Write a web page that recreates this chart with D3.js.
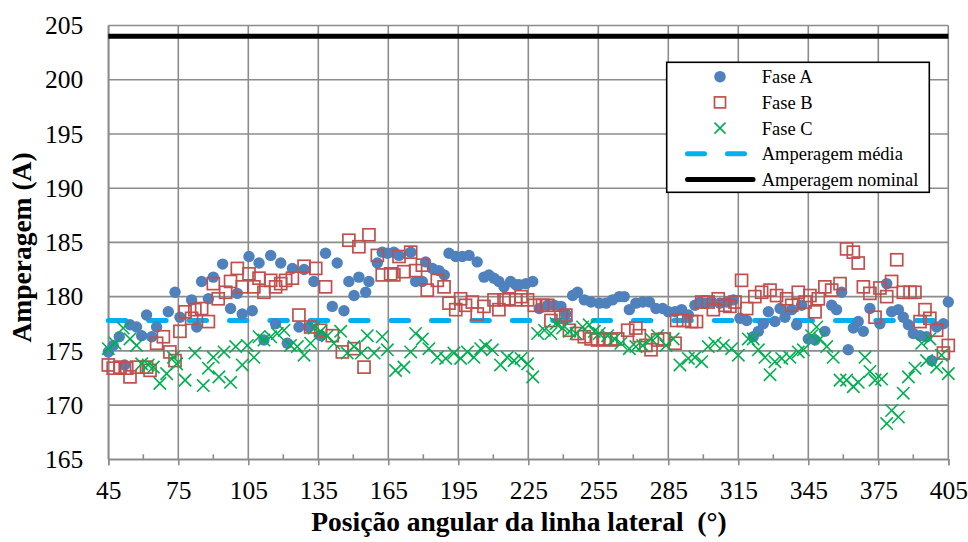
<!DOCTYPE html>
<html>
<head>
<meta charset="utf-8">
<script src="https://cdn.jsdelivr.net/npm/d3@7/dist/d3.min.js"></script>
<style>
  html, body { margin: 0; padding: 0; background: #fff; }
  svg { display: block; }
</style>
</head>
<body>
<svg id="chart" width="968" height="542"></svg>
<script>
// Corrente por fase ao longo da posição angular da linha lateral
const faseA = [
  [45,174.9],[47.1,175.5],[49.7,176.3],[52,173.7],[54.3,177.4],[57.1,177.2],[59.3,176.4],[61.4,178.3],
  [63.6,176.3],[65.7,177.2],[70.7,178.6],[73.6,180.4],[75.7,178.1],[80.7,179.7],[82.9,177.2],[85,181.4],
  [87.9,179.8],[90,181.8],[94,183.0],[97.4,178.9],[100.3,180.3],[102.4,178.4],[105.3,183.7],[106.7,178.7],
  [109.6,183.1],[111.7,176.0],[114.6,183.8],[116.7,177.5],[118.9,183.1],[121.7,175.7],[123.9,182.6],
  [126.7,177.2],[128.9,182.5],[131,177.2],[133.1,181.4],[136,176.4],[138.1,184.0],[141,179.1],[143.1,183.1],
  [146,178.7],[148.1,181.4],[150.3,180.1],[152.4,181.8],[155.3,180.4],[156.7,181.4],[160.3,183.1],
  [162.4,184.1],[164.6,184.0],[167.4,184.1],[169.6,183.8],[174.6,184.1],[176.7,181.4],[179.6,181.4],
  [181,183.2],[183.9,182.6],[186.7,182.4],[189,182.0],[191,184.0],[193.9,183.7],[196.7,183.7],[199.6,183.8],
  [203.1,183.2],[206,181.8],[208.1,182.0],[210.3,181.7],[212.4,181.4],[214.6,180.9],[217.4,181.4],
  [219.6,181.1],[221.1,181.1],[224,181.2],[226.9,181.4],[229.7,178.9],[233.3,179.2],[236.1,179.2],
  [239,179.1],[241.1,178.4],[244,180.1],[246.1,180.4],[249,179.7],[251.9,179.5],[255.4,179.4],[258.3,179.4],
  [261.1,179.7],[264,180.0],[266.1,180.0],[268.3,178.8],[271.1,179.4],[274,179.5],[276.9,179.5],
  [279.7,178.9],[282.6,178.9],[285,178.6],[287.9,178.6],[290.7,178.8],[293.6,178.3],[296.4,179.2],
  [298.6,179.5],[300.7,179.4],[303.6,179.5],[307.1,179.4],[310,179.5],[312.9,179.7],[315.7,178.0],
  [318.6,177.8],[321.4,176.3],[323.6,176.8],[325.7,177.5],[327.9,178.6],[330.7,177.7],[332.9,178.9],
  [335,178.1],[337.9,178.8],[340,177.4],[342.1,179.2],[345,176.1],[347.9,176.0],[352.1,176.8],[355,179.2],
  [357.1,178.8],[359.3,180.4],[362.1,175.1],[364.3,177.1],[366.4,177.7],[368.6,176.8],[371.4,178.9],
  [375.7,177.5],[378.6,181.2],[380.7,178.6],[383.6,178.8],[385.7,178.1],[387.9,177.4],[390,176.6],
  [392.9,176.4],[395.7,176.3],[397.9,174.1],[400,177.2],[402.9,177.5],[405,179.5]
];

const faseB = [
  [45,173.7],[47.1,173.4],[50,173.5],[52.9,173.4],[54.3,172.6],[57.1,173.5],[61.4,173.5],[62.9,173.2],
  [65.7,175.7],[68.6,176.3],[71.4,174.9],[73.6,174.1],[75.7,176.8],[77.9,178.6],[80.7,178.0],[82.1,178.8],
  [85,178.9],[87.9,177.7],[90,181.2],[92.1,179.8],[95.3,180.4],[97.4,181.4],[100.3,182.6],[102.4,180.9],
  [105.3,182.1],[107.4,180.9],[109.6,181.7],[111.7,180.4],[114.6,181.5],[116.7,180.9],[118.9,181.2],
  [121,181.5],[123.9,181.7],[126.7,178.3],[128.9,182.8],[131.7,177.2],[133.9,182.6],[136,176.9],
  [138.1,180.9],[141,176.4],[145.3,174.9],[148.1,185.2],[150.3,175.2],[152.4,184.6],[154.6,173.5],
  [156.7,185.7],[160.3,183.8],[162.4,182.0],[166,182.1],[167.4,182.0],[169.6,183.7],[171.7,182.3],
  [174.6,184.1],[176.7,182.4],[179.6,182.9],[181.7,180.6],[186,181.5],[188.9,180.9],[191,179.4],
  [193.9,178.8],[196,179.8],[198.1,179.2],[201,179.5],[203.1,178.4],[206,179.1],[210.3,179.7],[212.4,178.8],
  [214.6,179.7],[216.7,179.8],[219.6,179.7],[221.9,180.0],[224.7,179.7],[227.6,179.2],[231.1,179.2],
  [233.3,179.2],[234.7,177.8],[239,178.1],[241.1,178.3],[242.6,176.9],[246.1,176.6],[249,176.3],
  [251.9,176.1],[254.7,176.0],[257.6,176.1],[260.4,176.0],[263.3,176.1],[267.6,176.9],[271.1,177.1],
  [272.6,176.4],[275.4,175.5],[277.6,175.1],[280.4,176.0],[283.3,176.1],[287.9,175.7],[288.6,177.8],
  [291.4,177.8],[295,177.7],[297.1,177.7],[299.3,179.5],[302.1,179.5],[304.3,178.8],[306.4,179.8],
  [309.3,179.2],[311.4,179.1],[313.6,179.5],[316.4,181.5],[318.6,178.9],[322.1,180.0],[325,180.4],
  [328.6,180.6],[331.4,180.1],[335.7,179.8],[337.9,179.2],[340.7,180.4],[343.6,179.5],[345.7,180.1],
  [347.9,178.6],[349.3,179.8],[352.1,180.9],[355,180.6],[358.6,181.2],[361.4,184.4],[364.3,184.1],
  [366.4,183.1],[368.6,180.9],[371.4,180.3],[373.6,178.1],[375.7,180.8],[378.6,180.0],[380.7,181.4],
  [382.9,183.4],[385.7,180.4],[388.6,180.4],[390.7,180.4],[392.9,177.7],[395,178.8],[397.1,178.0],
  [400,176.9],[402.9,174.8],[405,175.5]
];

const faseC = [
  [45,175.2],[47.9,175.7],[51.4,177.1],[54.3,176.1],[57.1,175.5],[59.3,173.8],[62.1,173.7],[64.3,173.5],
  [67.1,172.0],[70,172.9],[72.9,174.4],[74.3,173.8],[77.9,172.3],[82.1,174.8],[85.7,171.8],[87.9,173.4],
  [90,174.4],[92.4,172.6],[94.6,174.9],[97.4,172.1],[99.6,175.4],[102.4,173.7],[104.6,175.5],[107.4,174.4],
  [109.6,176.3],[111.7,176.0],[114.6,176.3],[117.4,176.6],[120.3,176.9],[123.1,175.5],[126,175.4],
  [128.9,174.6],[131.7,175.7],[133.1,177.1],[136,176.8],[138.9,176.4],[141.7,175.7],[144.6,176.8],
  [147.4,174.8],[150.3,175.4],[153.5,174.8],[156,176.4],[158.9,174.8],[162.4,176.3],[164.6,175.1],
  [168.1,173.2],[171.7,173.5],[174.6,174.9],[176.7,176.6],[179.6,176.1],[182.4,175.2],[186,174.4],
  [189.6,174.3],[193.1,174.8],[196,174.3],[198.9,174.9],[201.7,174.4],[204.6,175.2],[206.7,175.5],
  [209.6,175.1],[213.1,173.7],[216,174.4],[218.9,174.1],[221.9,174.3],[224.7,173.8],[226.9,172.6],
  [229,176.6],[231.9,176.9],[234.7,176.6],[236.9,177.5],[239.7,177.1],[242.6,176.8],[245.4,176.6],
  [248.3,177.2],[251.1,177.4],[253.3,176.8],[255.4,176.6],[259,176.4],[261.9,176.1],[264.7,175.7],
  [268.3,175.2],[271.1,175.4],[274,175.5],[277.6,176.1],[280.4,176.4],[284,175.5],[287.1,176.1],
  [290,173.7],[293.6,174.3],[296.4,174.4],[299.3,174.0],[302.1,175.4],[305,175.7],[308.6,175.5],
  [312.1,175.2],[315,174.6],[319.3,176.1],[321.4,176.1],[323.6,175.1],[326.4,174.4],[328.6,172.8],
  [330.7,174.0],[333.6,174.3],[337.1,174.4],[340.7,174.9],[342.9,175.1],[346.4,176.4],[348.6,177.2],
  [350,176.1],[352.9,175.4],[355.7,174.4],[358.6,172.3],[361.4,172.3],[364.3,171.7],[366.4,172.1],
  [369.3,174.4],[371.4,173.1],[373.6,172.3],[376.4,172.4],[378.6,168.3],[380.7,169.5],[383.6,168.9],
  [385.7,171.1],[387.9,172.6],[390.7,173.4],[393.6,175.7],[395.7,174.1],[397.1,176.1],[400,173.5],
  [402.1,174.6],[405,172.9]
];

// Linhas de referência (amperagem média e nominal), de 45° a 405°
const amperagemMedia = [[45,177.8],[405,177.8]];
const amperagemNominal = [[45,204],[405,204]];

const xTicks = [45,75,105,135,165,195,225,255,285,315,345,375,405];
const xMinorTicks = [60,90,120,150,180,210,240,270,300,330,360,390];
const yTicks = [165,170,175,180,185,190,195,200,205];
const legendLabels = ["Fase A","Fase B","Fase C","Amperagem média","Amperagem nominal"];
const xTitle = "Posição angular da linha lateral  (°)";
const yTitle = "Amperagem (A)";

// ---- layout ----
const plot = { left: 108.3, right: 948.3, top: 25.5, bottom: 459.3 };
const FONT = '"Liberation Serif"';
const GRID = "#8c8c8c";
const C_A = "#4F81BD", C_B = "#C0504D", C_C = "#00B050", C_AVG = "#00B0F0";

const svg = d3.select("#chart");
const x = d3.scaleLinear().domain([45, 405]).range([plot.left, plot.right]);
const y = d3.scaleLinear().domain([165, 205]).range([plot.bottom, plot.top]);

// grid
const grid = svg.append("g");
grid.selectAll("line.h").data(yTicks).join("line")
  .attr("x1", plot.left).attr("x2", plot.right)
  .attr("y1", d => y(d)).attr("y2", d => y(d))
  .attr("stroke", GRID).attr("stroke-width", 1.6);
grid.selectAll("line.v").data(xTicks).join("line")
  .attr("x1", d => x(d)).attr("x2", d => x(d))
  .attr("y1", plot.top).attr("y2", plot.bottom)
  .attr("stroke", GRID).attr("stroke-width", 1.6);
// minor ticks on the x axis (pointing inward)
grid.selectAll("line.m").data(xMinorTicks).join("line")
  .attr("x1", d => x(d)).attr("x2", d => x(d))
  .attr("y1", plot.bottom).attr("y2", plot.bottom - 5)
  .attr("stroke", GRID).attr("stroke-width", 1.6);

// axes
const xAxis = svg.append("g")
  .attr("transform", `translate(0,${plot.bottom})`)
  .call(d3.axisBottom(x).tickValues(xTicks).tickSize(6).tickPadding(16).tickFormat(d3.format("d")));
const yAxis = svg.append("g")
  .attr("transform", `translate(${plot.left},0)`)
  .call(d3.axisLeft(y).tickValues(yTicks).tickSize(0).tickPadding(25).tickFormat(d3.format("d")));
[xAxis, yAxis].forEach(g => {
  g.select(".domain").attr("stroke", GRID).attr("stroke-width", 1.6);
  g.selectAll(".tick line").attr("stroke", GRID).attr("stroke-width", 1.6);
  g.selectAll("text").attr("fill", "#000")
    .style("font-family", FONT).style("font-size", "25.5px");
});

// reference lines
const line = d3.line().x(d => x(d[0])).y(d => y(d[1]));
svg.append("path").datum(amperagemNominal).attr("d", line)
  .attr("stroke", "#000").attr("stroke-width", 5).attr("fill", "none");
svg.append("path").datum(amperagemMedia).attr("d", line)
  .attr("stroke", C_AVG).attr("stroke-width", 5).attr("fill", "none")
  .attr("stroke-linecap", "round").attr("stroke-dasharray", "17.4,23");

// series
svg.append("g").selectAll("circle").data(faseA).join("circle")
  .attr("cx", d => x(d[0])).attr("cy", d => y(d[1])).attr("r", 5.7)
  .attr("fill", C_A);
svg.append("g").selectAll("rect").data(faseB).join("rect")
  .attr("x", d => x(d[0]) - 6).attr("y", d => y(d[1]) - 6)
  .attr("width", 12).attr("height", 12)
  .attr("fill", "none").attr("stroke", C_B).attr("stroke-width", 1.7);
const xMark = s => `M${-s},${-s}L${s},${s}M${-s},${s}L${s},${-s}`;
svg.append("g").selectAll("path").data(faseC).join("path")
  .attr("transform", d => `translate(${x(d[0])},${y(d[1])})`)
  .attr("d", xMark(6.2))
  .attr("fill", "none").attr("stroke", C_C).attr("stroke-width", 1.6);

// axis titles
svg.append("text")
  .attr("transform", `translate(31,247.5) rotate(-90)`)
  .attr("text-anchor", "middle")
  .style("font-family", FONT).style("font-size", "27.5px").style("font-weight", "bold")
  .text(yTitle);
svg.append("text")
  .attr("x", 519).attr("y", 531)
  .attr("text-anchor", "middle")
  .style("font-family", FONT).style("font-size", "27.5px").style("font-weight", "bold")
  .style("white-space", "pre")
  .text(xTitle);

// legend
const lg = svg.append("g");
lg.append("rect").attr("x", 666.7).attr("y", 62.3).attr("width", 262.6).attr("height", 130)
  .attr("fill", "#fff").attr("stroke", "#000").attr("stroke-width", 1.6);
const rowY = i => 76.7 + i * 25.7;
const mx = 720;
lg.append("circle").attr("cx", mx).attr("cy", rowY(0)).attr("r", 5.8).attr("fill", C_A);
lg.append("rect").attr("x", mx - 5.5).attr("y", rowY(1) - 5.5).attr("width", 11).attr("height", 11)
  .attr("fill", "none").attr("stroke", C_B).attr("stroke-width", 1.7);
lg.append("path").attr("transform", `translate(${mx},${rowY(2)})`).attr("d", xMark(5.5))
  .attr("fill", "none").attr("stroke", C_C).attr("stroke-width", 1.6);
lg.append("line").attr("x1", 687.5).attr("x2", 753).attr("y1", rowY(3)).attr("y2", rowY(3))
  .attr("stroke", C_AVG).attr("stroke-width", 5).attr("stroke-linecap", "round")
  .attr("stroke-dasharray", "17,23");
lg.append("line").attr("x1", 687.5).attr("x2", 753).attr("y1", rowY(4)).attr("y2", rowY(4))
  .attr("stroke", "#000").attr("stroke-width", 5).attr("stroke-linecap", "round");
lg.selectAll("text").data(legendLabels).join("text")
  .attr("x", 761.7).attr("y", (d, i) => rowY(i)).attr("dy", "0.35em")
  .style("font-family", FONT).style("font-size", "18.5px")
  .text(d => d);
</script>
</body>
</html>
